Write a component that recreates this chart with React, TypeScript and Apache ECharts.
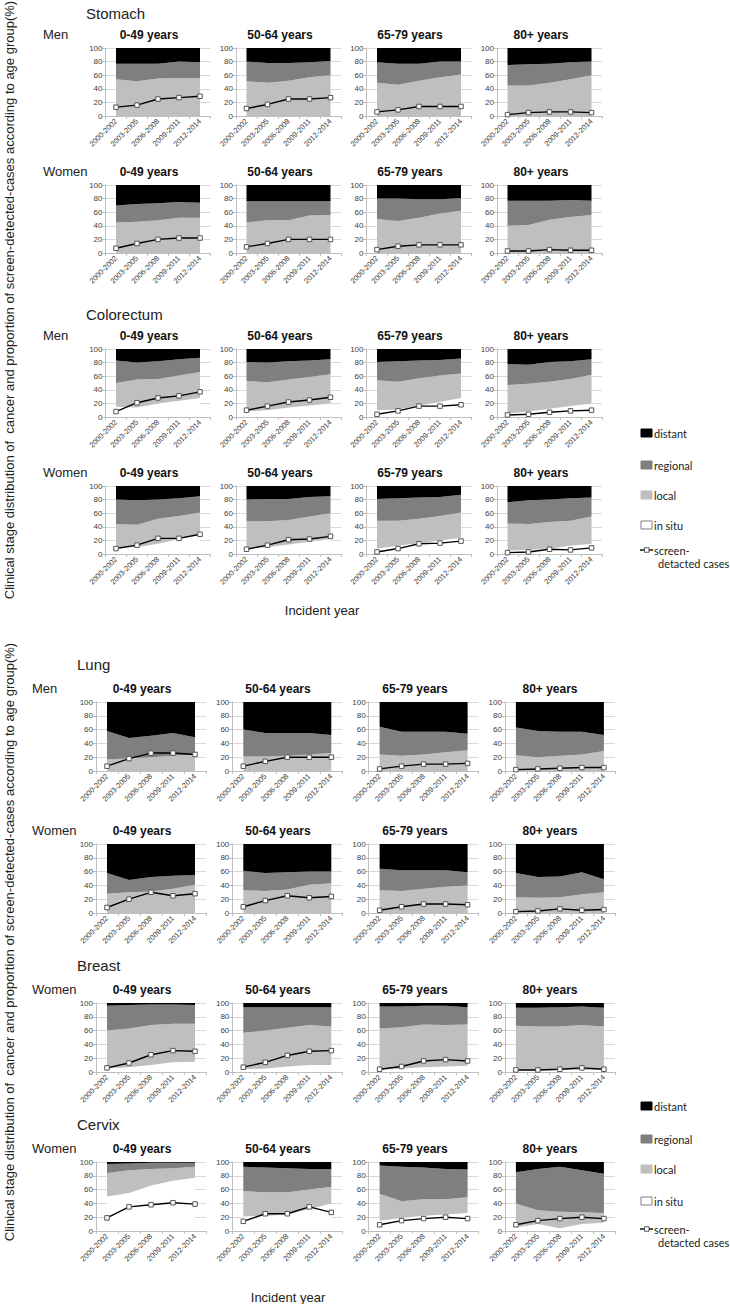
import React, { useEffect, useRef } from "react";
import * as echarts from "echarts";

const periods = ["2000-2002", "2003-2005", "2006-2008", "2009-2011", "2012-2014"];
const ageGroups = ["0-49 years", "50-64 years", "65-79 years", "80+ years"];
const stageNames = ["in situ", "local", "regional", "distant"];
const screenName = "screen-detacted cases";

// Each inner array = one age group (0-49, 50-64, 65-79, 80+), values in % per period
const stomachMenInSitu = [[0, 0, 0, 0, 0], [0, 0, 0, 0, 0], [0, 0, 0, 0, 0], [0, 0, 0, 0, 0]];
const stomachMenLocal = [[54, 51, 55, 56, 56], [51, 49, 52, 57, 60], [49, 46, 52, 57, 61], [45, 45, 49, 54, 60]];
const stomachMenRegional = [[23, 26, 22, 24, 23], [29, 29, 26, 22, 21], [30, 31, 25, 23, 19], [30, 31, 28, 25, 20]];
const stomachMenDistant = [[23, 23, 23, 20, 21], [20, 22, 22, 21, 19], [21, 23, 23, 20, 20], [25, 24, 23, 21, 20]];
const stomachMenScreen = [[13, 16, 25, 27, 29], [11, 17, 25, 25, 27], [6, 9, 14, 14, 14], [2, 5, 6, 6, 5]];

const stomachWomenInSitu = [[0, 0, 0, 0, 0], [0, 0, 0, 0, 0], [0, 0, 0, 0, 0], [0, 0, 0, 0, 0]];
const stomachWomenLocal = [[45, 46, 48, 52, 52], [45, 48, 48, 55, 56], [50, 47, 52, 58, 62], [40, 41, 49, 53, 56]];
const stomachWomenRegional = [[25, 26, 25, 23, 22], [31, 28, 28, 21, 20], [30, 33, 27, 21, 19], [37, 36, 28, 25, 21]];
const stomachWomenDistant = [[30, 28, 27, 25, 26], [24, 24, 24, 24, 24], [20, 20, 21, 21, 19], [23, 23, 23, 22, 23]];
const stomachWomenScreen = [[7, 14, 20, 22, 22], [9, 14, 20, 20, 20], [5, 10, 12, 12, 12], [3, 3, 5, 4, 4]];

const colorectumMenInSitu = [[15, 14, 20, 24, 28], [8, 10, 14, 17, 20], [10, 11, 17, 22, 28], [5, 8, 12, 16, 20]];
const colorectumMenLocal = [[35, 41, 36, 37, 38], [45, 41, 41, 42, 43], [44, 41, 40, 39, 36], [42, 41, 40, 40, 42]];
const colorectumMenRegional = [[33, 25, 26, 24, 21], [28, 29, 27, 24, 22], [27, 30, 26, 23, 22], [31, 28, 29, 26, 23]];
const colorectumMenDistant = [[17, 20, 18, 15, 13], [19, 20, 18, 17, 15], [19, 18, 17, 16, 14], [22, 23, 19, 18, 15]];
const colorectumMenScreen = [[8, 21, 28, 31, 37], [10, 16, 22, 25, 29], [4, 9, 16, 16, 18], [3, 4, 7, 9, 10]];

const colorectumWomenInSitu = [[10, 10, 15, 22, 28], [7, 10, 14, 18, 22], [8, 12, 16, 20, 24], [5, 6, 8, 12, 15]];
const colorectumWomenLocal = [[34, 33, 37, 34, 33], [41, 38, 36, 37, 38], [41, 37, 36, 36, 37], [40, 38, 39, 37, 40]];
const colorectumWomenRegional = [[36, 36, 28, 26, 24], [32, 33, 31, 29, 25], [32, 33, 31, 28, 26], [31, 35, 33, 33, 28]];
const colorectumWomenDistant = [[20, 21, 20, 18, 15], [20, 19, 19, 16, 15], [19, 18, 17, 16, 13], [24, 21, 20, 18, 17]];
const colorectumWomenScreen = [[8, 13, 23, 23, 29], [7, 13, 21, 22, 26], [3, 8, 15, 16, 19], [2, 3, 7, 6, 9]];

const lungMenInSitu = [[0, 0, 0, 0, 0], [0, 0, 0, 0, 0], [0, 0, 0, 0, 0], [0, 0, 0, 0, 0]];
const lungMenLocal = [[17, 18, 20, 22, 24], [21, 21, 22, 24, 26], [24, 22, 24, 27, 30], [23, 20, 22, 24, 29]];
const lungMenRegional = [[41, 30, 31, 33, 25], [39, 34, 33, 31, 26], [40, 35, 33, 30, 24], [40, 38, 35, 33, 23]];
const lungMenDistant = [[42, 52, 49, 45, 51], [40, 45, 45, 45, 48], [36, 43, 43, 43, 46], [37, 42, 43, 43, 48]];
const lungMenScreen = [[7, 18, 26, 26, 24], [7, 14, 20, 20, 20], [3, 7, 10, 10, 11], [2, 3, 4, 5, 5]];

const lungWomenInSitu = [[0, 0, 0, 0, 0], [0, 0, 0, 0, 0], [0, 0, 0, 0, 0], [0, 0, 0, 0, 0]];
const lungWomenLocal = [[28, 30, 31, 35, 41], [33, 32, 34, 41, 43], [33, 32, 35, 38, 40], [23, 22, 23, 27, 30]];
const lungWomenRegional = [[30, 18, 21, 19, 14], [28, 26, 25, 19, 17], [31, 30, 27, 24, 19], [35, 30, 30, 32, 19]];
const lungWomenDistant = [[42, 52, 48, 46, 45], [39, 42, 41, 40, 40], [36, 38, 38, 38, 41], [42, 48, 47, 41, 51]];
const lungWomenScreen = [[8, 20, 30, 25, 28], [9, 18, 25, 22, 24], [4, 9, 13, 13, 12], [2, 3, 6, 4, 5]];

const breastWomenInSitu = [[5, 7, 10, 14, 15], [4, 5, 8, 10, 10], [3, 5, 7, 8, 9], [2, 2, 3, 3, 3]];
const breastWomenLocal = [[55, 56, 58, 56, 55], [53, 55, 56, 58, 56], [60, 60, 62, 60, 60], [65, 64, 63, 65, 63]];
const breastWomenRegional = [[36, 34, 30, 28, 27], [37, 34, 30, 26, 28], [32, 30, 27, 28, 25], [26, 27, 28, 27, 27]];
const breastWomenDistant = [[4, 3, 2, 2, 3], [6, 6, 6, 6, 6], [5, 5, 4, 4, 6], [7, 7, 6, 5, 7]];
const breastWomenScreen = [[6, 13, 25, 31, 30], [7, 14, 24, 30, 31], [4, 8, 16, 18, 16], [3, 3, 4, 6, 4]];

const cervixWomenInSitu = [[50, 55, 66, 73, 77], [21, 22, 24, 32, 40], [15, 19, 22, 24, 26], [5, 10, 4, 10, 12]];
const cervixWomenLocal = [[34, 33, 24, 18, 16], [37, 34, 32, 28, 24], [39, 24, 24, 22, 23], [35, 20, 24, 17, 14]];
const cervixWomenRegional = [[13, 10, 9, 8, 6], [35, 36, 35, 30, 26], [41, 50, 46, 44, 40], [45, 60, 65, 61, 57]];
const cervixWomenDistant = [[3, 2, 1, 1, 1], [7, 8, 9, 10, 10], [5, 7, 8, 10, 11], [15, 10, 7, 12, 17]];
const cervixWomenScreen = [[19, 35, 38, 41, 39], [14, 25, 25, 35, 27], [9, 15, 18, 20, 18], [9, 15, 18, 20, 18]];

const rows = [
  { cancer: "Stomach", sex: "Men", stages: [stomachMenInSitu, stomachMenLocal, stomachMenRegional, stomachMenDistant], screen: stomachMenScreen },
  { cancer: "", sex: "Women", stages: [stomachWomenInSitu, stomachWomenLocal, stomachWomenRegional, stomachWomenDistant], screen: stomachWomenScreen },
  { cancer: "Colorectum", sex: "Men", stages: [colorectumMenInSitu, colorectumMenLocal, colorectumMenRegional, colorectumMenDistant], screen: colorectumMenScreen },
  { cancer: "", sex: "Women", stages: [colorectumWomenInSitu, colorectumWomenLocal, colorectumWomenRegional, colorectumWomenDistant], screen: colorectumWomenScreen },
  { cancer: "Lung", sex: "Men", stages: [lungMenInSitu, lungMenLocal, lungMenRegional, lungMenDistant], screen: lungMenScreen },
  { cancer: "", sex: "Women", stages: [lungWomenInSitu, lungWomenLocal, lungWomenRegional, lungWomenDistant], screen: lungWomenScreen },
  { cancer: "Breast", sex: "Women", stages: [breastWomenInSitu, breastWomenLocal, breastWomenRegional, breastWomenDistant], screen: breastWomenScreen },
  { cancer: "Cervix", sex: "Women", stages: [cervixWomenInSitu, cervixWomenLocal, cervixWomenRegional, cervixWomenDistant], screen: cervixWomenScreen },
];

// layout (pixels)
const rowTops = [48, 185, 349, 486, 702, 844, 1003, 1162];
const stageColors = ["#ffffff", "#bfbfbf", "#7f7f7f", "#000000"];
const SANS = "'Liberation Sans', Arial, sans-serif";
const NARROW = "'Liberation Sans Narrow', 'Liberation Sans', Arial, sans-serif";
const LEG = "Lato, 'Open Sans', 'Liberation Sans', sans-serif";

function buildOption() {
  const grid: any[] = [];
  const xAxis: any[] = [];
  const yAxis: any[] = [];
  const series: any[] = [];
  const graphic: any[] = [];

  rows.forEach((row, r) => {
    const panel = r < 4 ? 0 : 1;
    const top = rowTops[r];
    const height = panel === 0 ? 68 : 69;
    const width = panel === 0 ? 105 : 110;
    const sub = panel === 0 ? [149, 280, 410, 541] : [142, 278, 415, 550];

    if (row.cancer) {
      graphic.push({
        type: "text",
        left: panel === 0 ? 86 : 77,
        top: top - (panel === 0 ? 42 : 45),
        style: { text: row.cancer, fontSize: 15, fontFamily: NARROW, fill: "#222" },
      });
    }
    graphic.push({
      type: "text",
      left: panel === 0 ? 43 : 32,
      top: top - 20,
      style: { text: row.sex, fontSize: 13, fontFamily: NARROW, fill: "#222" },
    });

    for (let c = 0; c < 4; c++) {
      const i = r * 4 + c;
      const left = panel === 0 ? 105.5 + 130.5 * c : 96 + 136.3 * c;
      grid.push({ left, top, width, height, containLabel: false });
      graphic.push({
        type: "text",
        x: sub[c],
        y: top - 13,
        style: {
          text: ageGroups[c],
          fontSize: 12,
          fontWeight: "bold",
          fontFamily: NARROW,
          fill: "#111",
          textAlign: "center",
          textVerticalAlign: "middle",
        },
      });
      xAxis.push({
        gridIndex: i,
        type: "category",
        data: periods,
        boundaryGap: true,
        axisLine: { lineStyle: { color: "#bfbfbf" } },
        axisTick: { show: true, length: 3, lineStyle: { color: "#bfbfbf" } },
        axisLabel: { rotate: 45, fontSize: 7.5, color: "#404040", margin: 4, interval: 0, fontFamily: SANS },
        splitLine: { show: false },
      });
      yAxis.push({
        gridIndex: i,
        type: "value",
        min: 0,
        max: 100,
        interval: 20,
        axisLine: { show: true, lineStyle: { color: "#bfbfbf" } },
        axisTick: { show: true, length: 3, lineStyle: { color: "#bfbfbf" } },
        axisLabel: { fontSize: 8, color: "#404040", margin: 3, fontFamily: SANS },
        splitLine: { show: true, lineStyle: { color: "#d9d9d9", width: 1 } },
      });
      row.stages.forEach((stage, s) => {
        series.push({
          type: "line",
          name: stageNames[s],
          xAxisIndex: i,
          yAxisIndex: i,
          stack: "st" + i,
          data: stage[c],
          symbol: "none",
          showSymbol: false,
          silent: true,
          lineStyle: { width: 0, opacity: 0 },
          itemStyle: { color: stageColors[s] },
          areaStyle: { color: stageColors[s], opacity: 1 },
          z: 2,
        });
      });
      series.push({
        type: "line",
        name: screenName,
        xAxisIndex: i,
        yAxisIndex: i,
        data: row.screen[c],
        symbol: "rect",
        symbolSize: 4.5,
        showSymbol: true,
        silent: true,
        lineStyle: { color: "#000", width: 1.4 },
        itemStyle: { color: "#fff", borderColor: "#555", borderWidth: 1 },
        z: 5,
      });
    }
  });

  // left vertical titles
  const yTitle = "Clinical stage distribution of  cancer and proportion of screen-detected-cases according to age group(%)";
  [300, 942].forEach((cy) => {
    graphic.push({
      type: "text",
      x: 9,
      y: cy,
      rotation: Math.PI / 2,
      style: { text: yTitle, fontSize: 13, fontFamily: SANS, fill: "#222", textAlign: "center", textVerticalAlign: "middle" },
    });
  });
  // x titles
  graphic.push({ type: "text", x: 322, y: 610, style: { text: "Incident year", fontSize: 13, fontFamily: NARROW, fill: "#222", textAlign: "center", textVerticalAlign: "middle" } });
  graphic.push({ type: "text", x: 288, y: 1297, style: { text: "Incident year", fontSize: 13, fontFamily: NARROW, fill: "#222", textAlign: "center", textVerticalAlign: "middle" } });

  // legends
  const legendYs = [
    [433, 465, 495, 525, 550],
    [1106, 1139, 1169, 1201, 1229],
  ];
  const legendOrder = [3, 2, 1, 0];
  legendYs.forEach((ys) => {
    legendOrder.forEach((s, k) => {
      graphic.push({
        type: "rect",
        shape: { x: 641, y: ys[k] - 4, width: 11, height: 8 },
        style: { fill: stageColors[s], stroke: s === 0 ? "#7f7f7f" : stageColors[s], lineWidth: 1 },
      });
      graphic.push({
        type: "text",
        x: 654,
        y: ys[k],
        style: { text: stageNames[s], fontSize: 11, fontFamily: LEG, fill: "#222", textVerticalAlign: "middle" },
      });
    });
    const sy = ys[4];
    graphic.push({ type: "line", shape: { x1: 640, y1: sy, x2: 653, y2: sy }, style: { stroke: "#000", lineWidth: 1.4 } });
    graphic.push({ type: "rect", shape: { x: 644.5, y: sy - 2.25, width: 4.5, height: 4.5 }, style: { fill: "#fff", stroke: "#555", lineWidth: 1 } });
    graphic.push({ type: "text", x: 654, y: sy, style: { text: "screen-", fontSize: 11, fontFamily: LEG, fill: "#222", textVerticalAlign: "middle" } });
    graphic.push({ type: "text", x: 658, y: sy + 13, style: { text: "detacted cases", fontSize: 11, fontFamily: LEG, fill: "#222", textVerticalAlign: "middle" } });
  });

  return { animation: false, backgroundColor: "#fff", grid, xAxis, yAxis, series, graphic };
}

export default function App() {
  const ref = useRef<HTMLDivElement>(null);
  useEffect(() => {
    if (!ref.current) return;
    const chart = echarts.init(ref.current, undefined, { renderer: "svg" });
    chart.setOption(buildOption() as any);
    return () => chart.dispose();
  }, []);
  return <div ref={ref} style={{ position: "absolute", left: 0, top: 0, width: 730, height: 1304 }} />;
}
